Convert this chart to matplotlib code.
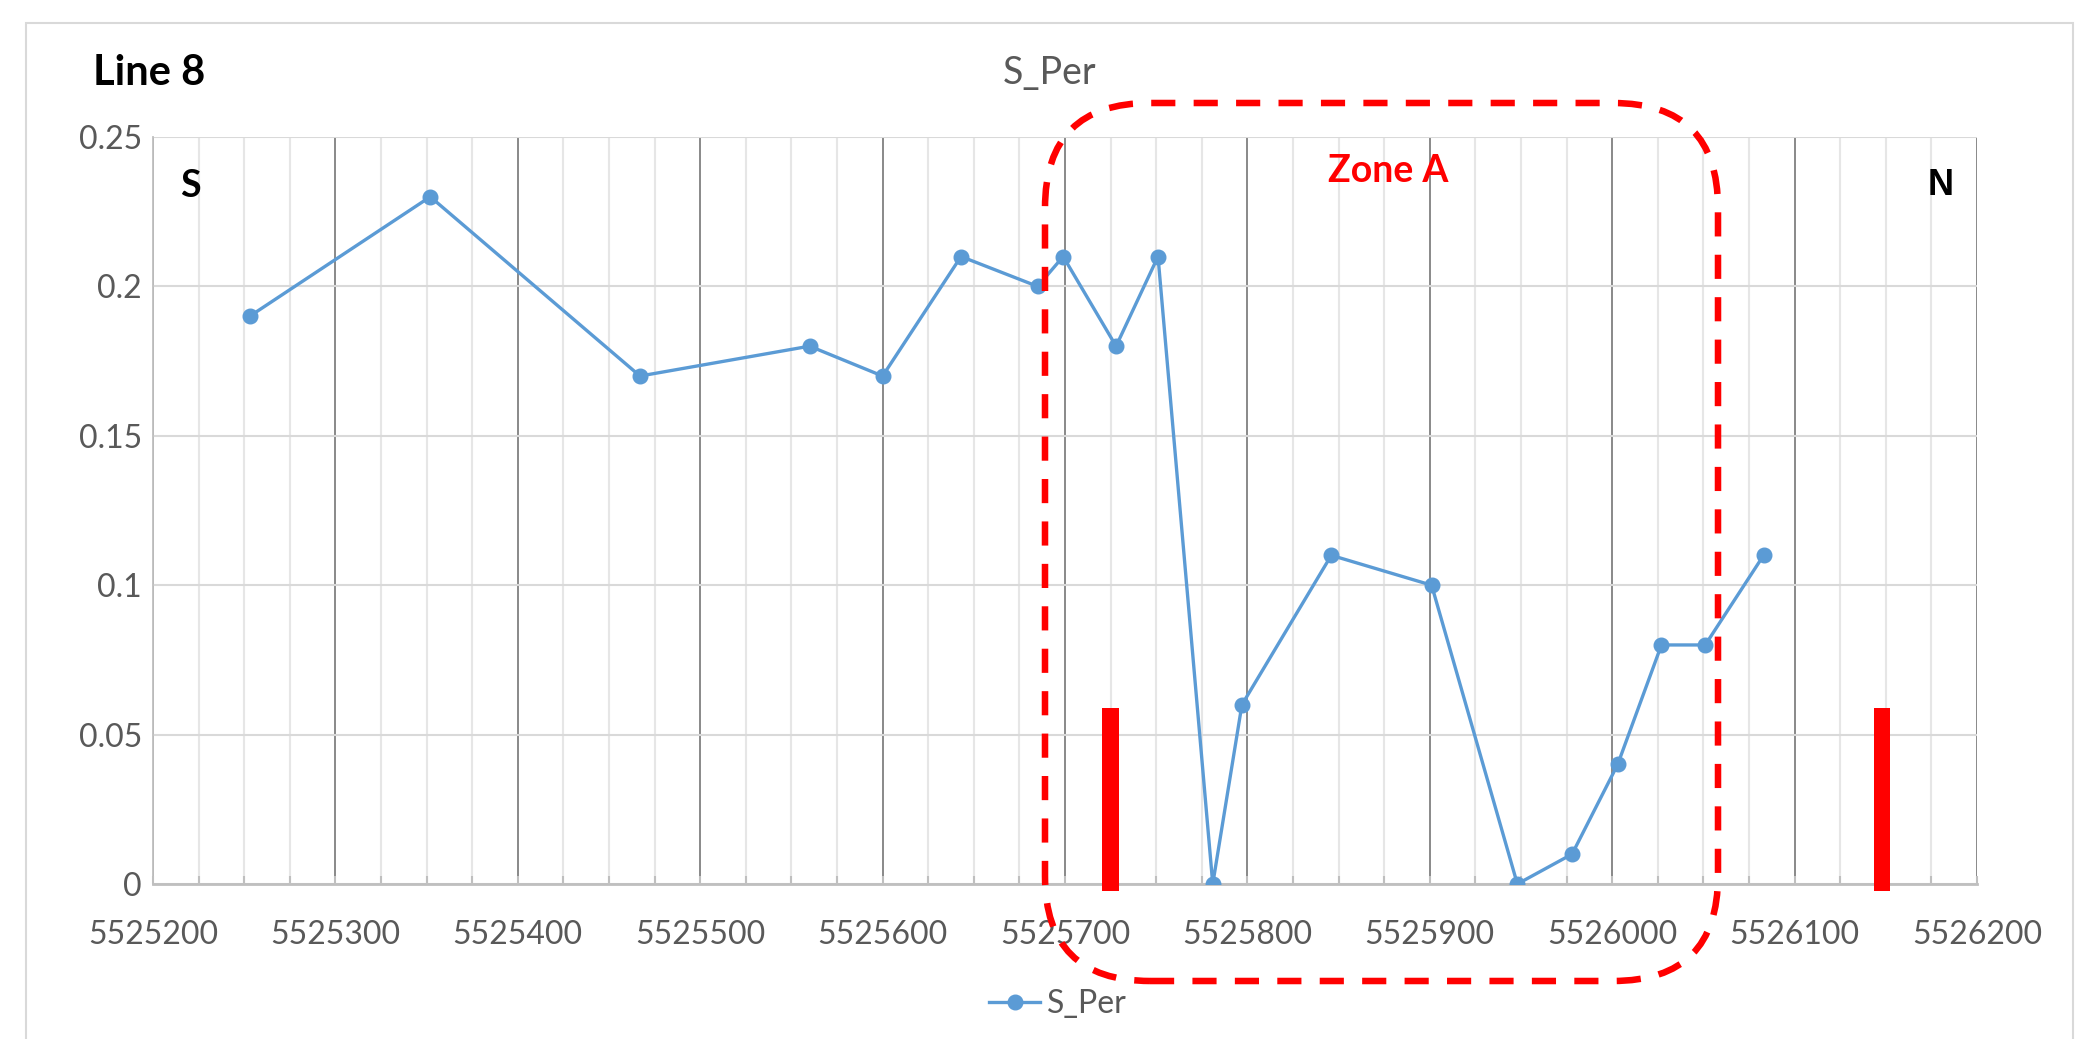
import matplotlib
matplotlib.use("Agg")
import matplotlib.pyplot as plt
from matplotlib.patches import Rectangle, FancyBboxPatch
from matplotlib.ticker import MultipleLocator, FuncFormatter

# Northing along line 8 and the S_Per reading at each station
northing = [5525253, 5525352, 5525467, 5525560, 5525600, 5525643, 5525685,
            5525699, 5525728, 5525751, 5525781, 5525797, 5525846, 5525901,
            5525948, 5525978, 5526003, 5526027, 5526051, 5526083]
s_per = [0.19, 0.23, 0.17, 0.18, 0.17, 0.21, 0.20,
         0.21, 0.18, 0.21, 0.0, 0.06, 0.11, 0.10,
         0.0, 0.01, 0.04, 0.08, 0.08, 0.11]

# red marker bars (drawn as shapes in the original)
marker_x = [5525725, 5526148]
marker_top = [0.059, 0.059]
marker_base = -0.0025

series_name = "S_Per"
chart_label = "Line 8"
zone_label = "Zone A"

W, H = 2093, 1039
TXT = ["Lato", "DejaVu Sans"]
GRAY = "#595959"
BLUE = "#5b9bd5"

fig = plt.figure(figsize=(W / 100, H / 100), dpi=100)

# chart area border
fig.add_artist(Rectangle((26 / W, -0.01), (2073 - 26) / W, (H - 23) / H + 0.01,
                         transform=fig.transFigure, fill=False,
                         ec="#d9d9d9", lw=1.5))

ax = fig.add_axes([153 / W, (H - 884) / H, (1977 - 153) / W, (884 - 137) / H])

ax.plot(northing, s_per, color=BLUE, lw=2.4, marker="o", ms=10.5,
        label=series_name, zorder=3)

heights = [t - marker_base for t in marker_top]
ax.bar(marker_x, heights, bottom=marker_base, width=9, color="#ff0000",
       zorder=4, clip_on=False)

ax.set_xlim(5525200, 5526200)
ax.set_ylim(0, 0.25)
ax.xaxis.set_major_locator(MultipleLocator(100))
ax.xaxis.set_minor_locator(MultipleLocator(25))
ax.xaxis.set_major_formatter(FuncFormatter(lambda v, p: "%d" % round(v)))
ax.yaxis.set_major_locator(MultipleLocator(0.05))
ax.yaxis.set_major_formatter(FuncFormatter(lambda v, p: "%g" % round(v, 3)))

ax.set_axisbelow(True)
ax.grid(which="major", axis="y", color="#d9d9d9", lw=1.5)
ax.grid(which="minor", axis="x", color="#e6e6e6", lw=1.5)
ax.grid(which="major", axis="x", color="#808080", lw=1.3)

for side in ["top", "right"]:
    ax.spines[side].set_visible(False)
ax.spines["left"].set_color("#bfbfbf")
ax.spines["left"].set_linewidth(1.3)
ax.spines["bottom"].set_color("#bfbfbf")
ax.spines["bottom"].set_linewidth(2)

ax.tick_params(axis="x", which="both", direction="in", length=6,
               color="#bfbfbf", width=1.5, pad=26)
ax.tick_params(axis="y", length=0, pad=8)
for lab in ax.get_xticklabels() + ax.get_yticklabels():
    lab.set_fontfamily(TXT)
    lab.set_fontsize(23)
    lab.set_color(GRAY)

# texts
fig.text(93 / W, 1 - 73 / H, chart_label, family=TXT, fontsize=30,
         fontweight="bold", color="black", va="center", ha="left")
fig.text(1050 / W, 1 - 73 / H, series_name, family=TXT, fontsize=27,
         color=GRAY, va="center", ha="center")
ax.text(0.015, 0.935, "S", transform=ax.transAxes, family=TXT,
        fontsize=27, fontweight="bold", va="center", ha="left")
ax.text(0.987, 0.935, "N", transform=ax.transAxes, family="Liberation Sans",
        fontsize=26, fontweight="bold", va="center", ha="right")
fig.text(1388 / W, 1 - 171 / H, zone_label, family=TXT, fontsize=27,
         fontweight="bold", color="#ff0000", va="center", ha="center")

# legend
leg = fig.legend(loc="center", bbox_to_anchor=(1058 / W, 1 - 1004 / H),
                 frameon=False, prop={"family": TXT, "size": 23},
                 handlelength=1.6, handletextpad=0.2)
for t in leg.get_texts():
    t.set_color(GRAY)

# dashed rounded outline of Zone A (in inches so corners stay round)
zone = FancyBboxPatch((1045 / 100, (H - 981) / 100), (1718 - 1045) / 100,
                      (981 - 103) / 100,
                      boxstyle="round,pad=0,rounding_size=1.05",
                      transform=fig.dpi_scale_trans, fill=False,
                      ec="#ff0000", lw=4.7, linestyle=(0, (3.7, 2.8)),
                      zorder=10)
fig.add_artist(zone)

fig.savefig("out.png", dpi=100)
